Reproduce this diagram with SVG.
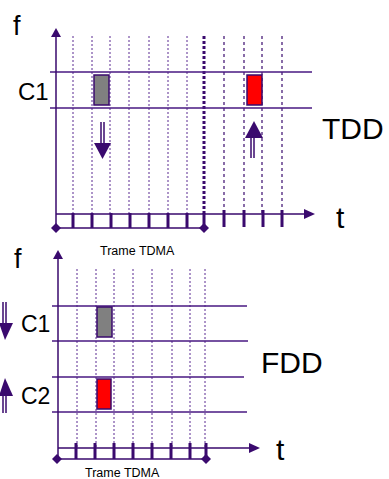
<svg xmlns="http://www.w3.org/2000/svg" width="389" height="479" viewBox="0 0 389 479">
<style>
.ax{stroke:#3a0a6e;stroke-width:1.5;fill:none}
.hl{stroke:#4a1a82;stroke-width:1.5;fill:none}
.dot{stroke:#5a2a92;stroke-width:1;stroke-dasharray:2 2;fill:none}
.tdot{stroke:#3a0a6e;stroke-width:3;stroke-dasharray:3 2;fill:none}
.dash{stroke:#3a0a6e;stroke-width:1.2;stroke-dasharray:3 3;fill:none}
.tk{stroke:#3a0a6e;stroke-width:3;fill:none}
.hd{fill:#3a0a6e;stroke:none}
.txt{font-family:"Liberation Sans",Arial,sans-serif;fill:#000}
.slot{stroke:#3a0a6e;stroke-width:1.5}
</style>
<g id="tdd">
  <g id="tdd-grid">
    <path class="dot" d="M73 36V214M92 36V214M110 36V214M129 36V214M149 36V214M168 36V214M187 36V214"/>
    <path class="tdot" d="M204 36V214"/>
    <path class="dash" d="M224 36V214M244 36V214M262 36V214M282 36V214"/>
    <path class="hl" d="M50 72H312M50 108H312"/>
  </g>
  <g id="tdd-axes">
    <path class="ax" d="M56 34V228M56 214H306M56 228H204"/>
    <polygon class="hd" points="56,28 51,37 61,37"/>
    <polygon class="hd" points="315,214 304,209 304,219"/>
    <polygon class="hd" points="56,223 61,228 56,233 51,228"/>
    <polygon class="hd" points="204,223 209,228 204,233 199,228"/>
    <path class="tk" d="M73 213V228M92 213V228M111 213V228M130 213V228M149 213V228M168 213V228M187 213V228M204 213V228M224 210V227M244 210V227M263 210V227M282 210V227"/>
  </g>
  <g id="tdd-slot-down">
    <rect class="slot" x="94" y="75" width="15" height="30" fill="#808080"/>
    <path class="ax" d="M101 122V143M104 122V143"/>
    <polygon class="hd" points="94,143 111,143 102.5,159"/>
  </g>
  <g id="tdd-slot-up">
    <rect class="slot" x="247" y="75" width="15" height="30" fill="#ff0000"/>
    <path class="ax" d="M251 138V158M254 138V158"/>
    <polygon class="hd" points="245,138 263,138 254,121"/>
  </g>
  <text class="txt" x="13" y="35" font-size="27">f</text>
  <text class="txt" x="18" y="100" font-size="24">C1</text>
  <text class="txt" x="322" y="139" font-size="30">TDD</text>
  <text class="txt" x="336" y="228" font-size="30">t</text>
  <text class="txt" x="100" y="255" font-size="12.5">Trame TDMA</text>
</g>
<g id="fdd">
  <g id="fdd-grid">
    <path class="dot" d="M77 269V448M96 269V448M114 269V448M133 269V448M152 269V448M172 269V448M190 269V448M205 269V448"/>
    <path class="hl" d="M52 306H247M52 341H248M52 377H244M52 412H247"/>
  </g>
  <g id="fdd-axes">
    <path class="ax" d="M58 256V459M58 448H251M57 459H206"/>
    <polygon class="hd" points="58,250 53,259 63,259"/>
    <polygon class="hd" points="260,448 249,443 249,453"/>
    <polygon class="hd" points="57,454 62,459 57,464 52,459"/>
    <polygon class="hd" points="206,454 211,459 206,464 201,459"/>
    <path class="tk" d="M76 443V459M95 443V459M114 443V459M133 443V459M152 443V459M171 443V459M190 443V459M206 443V459"/>
  </g>
  <g id="fdd-c1">
    <rect class="slot" x="97" y="307" width="15" height="30" fill="#808080"/>
    <path class="ax" d="M3 302V323M6 302V323"/>
    <polygon class="hd" points="-1,323 13,323 5,340"/>
  </g>
  <g id="fdd-c2">
    <rect class="slot" x="97" y="379" width="14" height="30" fill="#ff0000"/>
    <path class="ax" d="M3 396V413M6 396V413"/>
    <polygon class="hd" points="-1,396 13,396 5,378"/>
  </g>
  <text class="txt" x="14" y="268" font-size="27">f</text>
  <text class="txt" x="21" y="332" font-size="23">C1</text>
  <text class="txt" x="21" y="404" font-size="23">C2</text>
  <text class="txt" x="261" y="373" font-size="30">FDD</text>
  <text class="txt" x="276" y="460" font-size="30">t</text>
  <text class="txt" x="85" y="477" font-size="12.5">Trame TDMA</text>
</g>
</svg>
